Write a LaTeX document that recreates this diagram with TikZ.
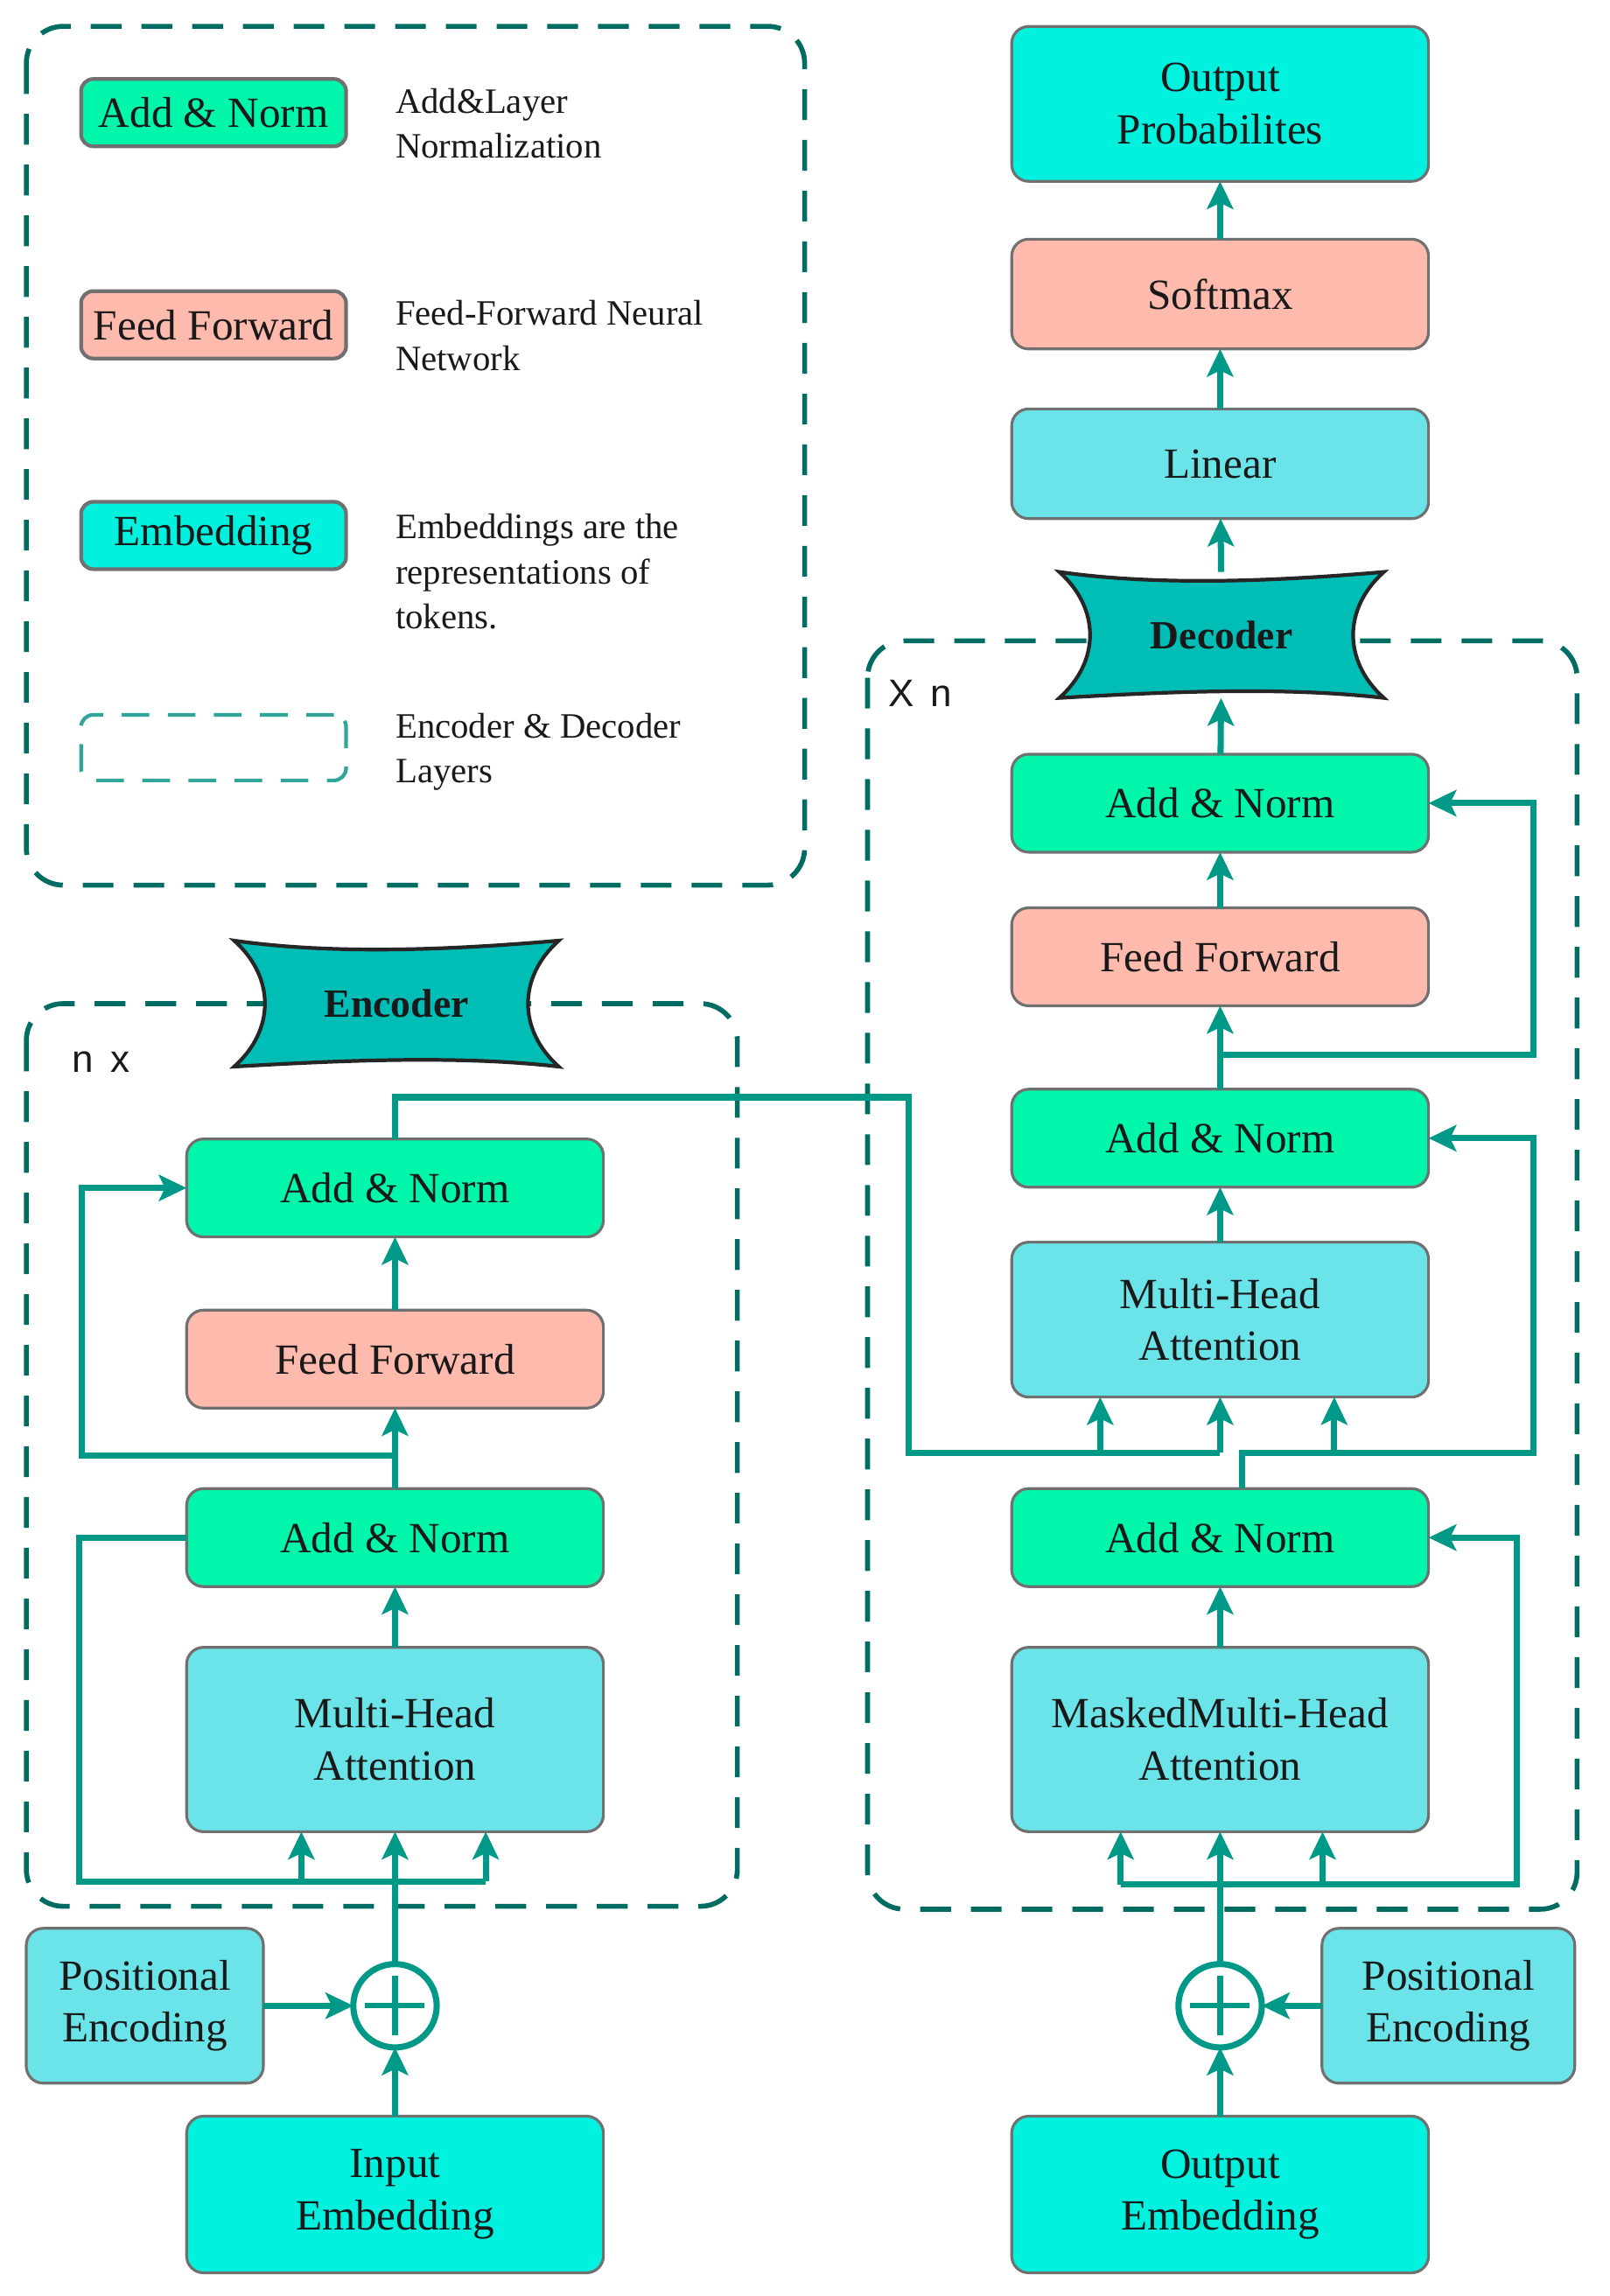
\documentclass[tikz,border=0pt]{standalone}
\usepackage{fontspec}
\setmainfont{Liberation Serif}
\newfontfamily\labelsans{Liberation Sans}
\usetikzlibrary{arrows.meta,backgrounds}

\definecolor{normgreen}{RGB}{0,246,170}
\definecolor{ffpink}{RGB}{255,186,174}
\definecolor{attcyan}{RGB}{106,228,232}
\definecolor{embcyan}{RGB}{0,242,222}
\definecolor{bannerteal}{RGB}{0,190,182}
\definecolor{linkteal}{RGB}{0,153,136}
\definecolor{dashteal}{RGB}{0,108,98}
\definecolor{legdash}{RGB}{50,165,155}
\definecolor{boxgray}{RGB}{112,112,112}
\definecolor{inkgray}{RGB}{25,25,25}

\tikzset{
  block/.style={draw=boxgray, line width=0.9pt, rounded corners=5.5pt, minimum width=4.765cm,
    align=center, text=inkgray, inner sep=2pt, outer sep=0pt, font=\fontsize{14}{17}\selectfont},
  normbox/.style={block, fill=normgreen, minimum height=1.12cm},
  ffbox/.style={block, fill=ffpink, minimum height=1.12cm},
  attbox/.style={block, fill=attcyan},
  embbox/.style={block, fill=embcyan},
  legbox/.style={block, line width=1.2pt, minimum width=3.03cm, minimum height=0.77cm, rounded corners=4pt},
  legtext/.style={anchor=north west, align=left, inner sep=0pt, text=inkgray, font=\fontsize{11.6}{14.6}\selectfont},
  link/.style={draw=linkteal, line width=2pt},
  arr/.style={link, -{Stealth[length=9pt,width=8.5pt,inset=2pt]}},
  layerbox/.style={draw=dashteal, line width=1.6pt, dash pattern=on 10pt off 6.5pt, rounded corners=12pt},
  bannerbox/.style={minimum width=3.71cm, minimum height=1.44cm, inner sep=0pt, outer sep=0pt,
    text=inkgray, font=\bfseries\fontsize{13}{15}\selectfont},
  bannerline/.style={draw=black!85, line width=1.2pt, fill=bannerteal},
  plusnode/.style={circle, draw=linkteal, line width=2pt, minimum size=0.953cm, inner sep=0pt, outer sep=0pt,
    path picture={\draw[linkteal, line width=1.8pt] ([xshift=-0.34cm]path picture bounding box.center) -- ([xshift=0.34cm]path picture bounding box.center)
      ([yshift=-0.34cm]path picture bounding box.center) -- ([yshift=0.34cm]path picture bounding box.center);}},
  countlabel/.style={inner sep=0pt, text=inkgray, font=\labelsans\fontsize{12.5}{14}\selectfont},
}

\newcommand{\drawbanner}[1]{%
  \draw[bannerline] (#1.north west) .. controls +(70,10) and +(-70,6) .. (#1.north east)
    .. controls +(-28,25) and +(-28,-25) .. (#1.south east)
    .. controls +(-70,-8) and +(70,-4) .. (#1.south west)
    .. controls +(28,-25) and +(28,25) .. (#1.north west) -- cycle;}

\begin{document}
\begin{tikzpicture}[x=0.01672cm,y=-0.01672cm]
\useasboundingbox (0,0) rectangle (1100,1569.4);

% legend
\node[legbox, fill=normgreen] (lan) at (146,77) {Add \& Norm};
\node[legbox, fill=ffpink] (lff) at (146,222) {Feed Forward};
\node[legbox, fill=embcyan] (lemb) at (146,366) {Embedding};
\node[draw=legdash, line width=1.2pt, dash pattern=on 9pt off 6pt, rounded corners=4pt,
  minimum width=3.03cm, minimum height=0.75cm] (llay) at (146,511) {};
\node[legtext] (lant) at (270,60) {Add\&Layer\\Normalization};
\node[legtext] (lfft) at (270,205) {Feed-Forward Neural\\Network};
\node[legtext] (lembt) at (270,351) {Embeddings are the\\representations of\\tokens.};
\node[legtext] (llayt) at (270,487) {Encoder \& Decoder\\Layers};

% encoder
\node[bannerbox] (enc) at (271,686) {Encoder};
\node[countlabel] (encn) at (69,726) {n\, x};
\node[normbox] (ean2) at (270,812) {Add \& Norm};
\node[ffbox] (eff) at (270,929) {Feed Forward};
\node[normbox] (ean1) at (270,1051) {Add \& Norm};
\node[attbox, minimum height=2.107cm] (emha) at (270,1189) {Multi-Head\\Attention};
\node[plusnode] (eplus) at (270,1371) {};
\node[attbox, minimum width=2.71cm, minimum height=1.77cm] (epe) at (99,1371) {Positional\\Encoding};
\node[embbox, minimum height=1.79cm] (einp) at (270,1500) {Input\\Embedding};

% decoder
\node[embbox, minimum height=1.77cm] (outp) at (834,71) {Output\\Probabilites};
\node[ffbox, minimum height=1.254cm] (soft) at (834,201) {Softmax};
\node[attbox, minimum height=1.254cm] (lin) at (834,317) {Linear};
\node[bannerbox] (dec) at (835,434) {Decoder};
\node[countlabel] (decn) at (629,474) {X\, n};
\node[normbox] (dan3) at (834,549) {Add \& Norm};
\node[ffbox] (dff) at (834,654) {Feed Forward};
\node[normbox] (dan2) at (834,778) {Add \& Norm};
\node[attbox, minimum height=1.77cm] (dmha) at (834,902) {Multi-Head\\Attention};
\node[normbox] (dan1) at (834,1051) {Add \& Norm};
\node[attbox, minimum height=2.107cm] (dmmha) at (834,1189) {MaskedMulti-Head\\Attention};
\node[plusnode] (dplus) at (834,1371) {};
\node[attbox, minimum width=2.89cm, minimum height=1.77cm] (dpe) at (990,1371) {Positional\\Encoding};
\node[embbox, minimum height=1.79cm] (dout) at (834,1500) {Output\\Embedding};

\begin{scope}[on background layer]
\draw[layerbox] (18,18) rectangle (550,605);
\draw[layerbox] (18,686) rectangle (504,1303);
\draw[layerbox] (593,438) rectangle (1078,1305);
\drawbanner{enc}
\drawbanner{dec}
\end{scope}

% encoder links
\draw[arr] (einp) -- (eplus);
\draw[arr] (epe) -- (eplus);
\draw[arr] (eplus) -- (emha);
\coordinate (ek) at (206,1286);
\coordinate (ev) at (332,1286);
\coordinate (eskip1) at (54,1286);
\draw[link] (ean1.west) -| (eskip1) -- (ev);
\draw[arr] (ek) -- (ek |- emha.south);
\draw[arr] (ev) -- (ev |- emha.south);
\draw[arr] (emha) -- (ean1);
\draw[arr] (ean1) -- (eff);
\coordinate (eskip2) at (56,995);
\draw[arr] (eskip2 -| ean1.north) -- (eskip2) |- (ean2.west);
\draw[arr] (eff) -- (ean2);

% encoder to decoder
\coordinate (ecross) at (621,750);
\coordinate (dkv) at (621,993);
\coordinate (dk) at (752,993);
\draw[link] (ean2.north) |- (ecross) -- (dkv) -- (dkv -| dmha.south);
\draw[arr] (dkv -| dmha.south) -- (dmha.south);
\draw[arr] (dk) -- (dk |- dmha.south);

% decoder links
\draw[arr] (dout) -- (dplus);
\draw[arr] (dpe) -- (dplus);
\draw[arr] (dplus) -- (dmmha);
\coordinate (dq1) at (766,1288);
\coordinate (dq2) at (904,1288);
\coordinate (dskip1) at (1037,1288);
\draw[arr] (dq1) -- (dskip1) |- (dan1.east);
\draw[arr] (dq1) -- (dq1 |- dmmha.south);
\draw[arr] (dq2) -- (dq2 |- dmmha.south);
\draw[arr] (dmmha) -- (dan1);
\coordinate (dq) at (849,993);
\coordinate (dqk) at (912,993);
\coordinate (dskip2) at (1048,993);
\draw[arr] (dq |- dan1.north) -- (dq) -- (dskip2) |- (dan2.east);
\draw[arr] (dqk) -- (dqk |- dmha.south);
\draw[arr] (dmha) -- (dan2);
\draw[arr] (dan2) -- (dff);
\coordinate (dskip3) at (1048,721);
\draw[arr] (dskip3 -| dan2.north) -- (dskip3) |- (dan3.east);
\draw[arr] (dff) -- (dan3);
\draw[arr] (dan3) -- (dec);
\draw[arr] (dec) -- (lin);
\draw[arr] (lin) -- (soft);
\draw[arr] (soft) -- (outp);
\end{tikzpicture}
\end{document}
